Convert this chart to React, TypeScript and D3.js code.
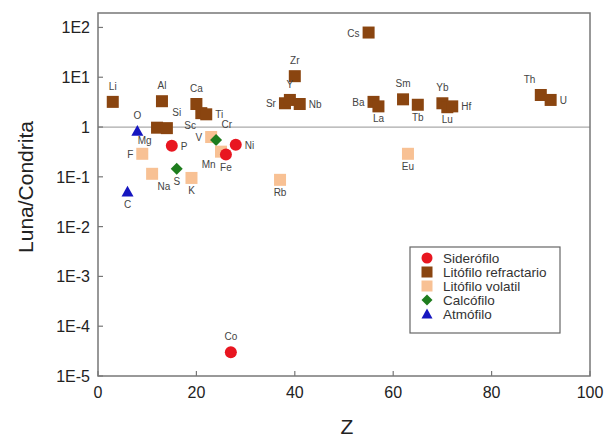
import * as React from "react";
import * as d3 from "d3";

// element symbols, atomic number, Luna/Condrita ratio, geochemical group
const elements = ["Li", "C", "O", "F", "Na", "Mg", "Al", "Si", "P", "S", "K", "Ca", "Sc", "Ti", "V", "Cr", "Mn", "Fe", "Co", "Ni", "Rb", "Sr", "Y", "Zr", "Nb", "Cs", "Ba", "La", "Sm", "Eu", "Tb", "Yb", "Lu", "Hf", "Th", "U"];
const zValues = [3, 6, 8, 9, 11, 12, 13, 14, 15, 16, 19, 20, 21, 22, 23, 24, 25, 26, 27, 28, 37, 38, 39, 40, 41, 55, 56, 57, 62, 63, 65, 70, 71, 72, 90, 92];
const ratios = [3.2, 0.05, 0.83, 0.29, 0.115, 0.97, 3.3, 0.95, 0.42, 0.145, 0.095, 2.9, 1.9, 1.8, 0.63, 0.55, 0.32, 0.28, 3e-5, 0.44, 0.087, 3.0, 3.5, 10.5, 2.9, 79, 3.2, 2.6, 3.6, 0.29, 2.8, 3.0, 2.5, 2.6, 4.4, 3.5];
const groupOf = ["lr", "at", "at", "lv", "lv", "lr", "lr", "lr", "si", "ca", "lv", "lr", "lr", "lr", "lv", "ca", "lv", "si", "si", "si", "lv", "lr", "lr", "lr", "lr", "lr", "lr", "lr", "lr", "lv", "lr", "lr", "lr", "lr", "lr", "lr"];

const groups = ["si", "lr", "lv", "ca", "at"];
const groupNames = ["Siderófilo", "Litófilo refractario", "Litófilo volatil", "Calcófilo", "Atmófilo"];
const groupColors = ["#e81620", "#8a4510", "#f8c194", "#1e7d1e", "#1616c0"];

const xTicks = [0, 20, 40, 60, 80, 100];
const yTicks = [1e-5, 1e-4, 1e-3, 1e-2, 1e-1, 1, 10, 100];

// label placement around the marker
const labelPos: Record<string, string> = {
  Li: "t", C: "b", O: "t", F: "l", Na: "br", Mg: "bl", Al: "t", Si: "tr", P: "r", S: "b", K: "b",
  Ca: "t", Sc: "bl", Ti: "r", V: "l", Cr: "tr", Mn: "bl", Fe: "b", Co: "t", Ni: "r", Rb: "b",
  Sr: "l", Y: "t", Zr: "t", Nb: "r", Cs: "l", Ba: "l", La: "b", Sm: "t", Eu: "b", Tb: "b",
  Yb: "t", Lu: "b", Hf: "r", Th: "tl", U: "r",
};

const W = 606, H = 437;
const left = 98, right = 590, top = 13, bottom = 376;

function Marker({ g, x, y, s }: { g: string; x: number; y: number; s: number }) {
  const color = groupColors[groups.indexOf(g)];
  if (g === "si") return <circle cx={x} cy={y} r={s / 2} fill={color} />;
  if (g === "ca") {
    const r = s / 2;
    return <path d={`M${x},${y - r}L${x + r},${y}L${x},${y + r}L${x - r},${y}Z`} fill={color} />;
  }
  if (g === "at") {
    const r = s / 2;
    return <path d={`M${x},${y - r}L${x + r},${y + r * 0.8}L${x - r},${y + r * 0.8}Z`} fill={color} />;
  }
  return <rect x={x - s / 2} y={y - s / 2} width={s} height={s} fill={color} />;
}

export default function App() {
  const x = d3.scaleLinear().domain([0, 100]).range([left, right]);
  const y = d3.scaleLog().domain([1e-5, Math.pow(10, 2.29)]).range([bottom, top]);
  const fmt = (v: number) => {
    const e = Math.round(Math.log10(v));
    return e === 0 ? "1" : `1E${e}`;
  };

  const points = elements.map((el, i) => ({ el, z: zValues[i], v: ratios[i], g: groupOf[i] }));

  const labelFor = (p: { el: string; z: number; v: number }) => {
    const px = x(p.z), py = y(p.v);
    const pos = labelPos[p.el] || "t";
    let dx = 0, dy = 0, anchor = "middle";
    if (pos.includes("t")) dy = -12;
    if (pos.includes("b")) dy = 16;
    if (pos === "l" || pos === "r") dy = 4;
    if (pos.includes("l")) { dx = -9; anchor = "end"; }
    if (pos.includes("r")) { dx = 9; anchor = "start"; }
    if (pos === "tr" || pos === "tl" || pos === "br" || pos === "bl") dx = dx * 0.6;
    return (
      <text key={"l" + p.el} x={px + dx} y={py + dy} textAnchor={anchor} fontSize={10} fill="#444">
        {p.el}
      </text>
    );
  };

  return (
    <svg width={W} height={H} style={{ position: "absolute", left: 0, top: 0, background: "#fff" }} fontFamily="Arial, 'Liberation Sans', sans-serif">
      <line x1={left} x2={right} y1={y(1)} y2={y(1)} stroke="#aaa" strokeWidth={1.2} />
      <rect x={left} y={top} width={right - left} height={bottom - top} fill="none" stroke="#777" strokeWidth={1.5} />
      {yTicks.map((t) => (
        <g key={"y" + t}>
          <line x1={left} x2={left + 5} y1={y(t)} y2={y(t)} stroke="#777" strokeWidth={1.2} />
          <text x={left - 8} y={y(t) + 6} textAnchor="end" fontSize={16} fill="#222">{fmt(t)}</text>
        </g>
      ))}
      {xTicks.map((t) => (
        <g key={"x" + t}>
          <line x1={x(t)} x2={x(t)} y1={bottom} y2={bottom - 5} stroke="#777" strokeWidth={1.2} />
          <text x={x(t)} y={bottom + 22} textAnchor="middle" fontSize={16} fill="#222">{t}</text>
        </g>
      ))}
      <text transform={`translate(33,187) rotate(-90)`} textAnchor="middle" fontSize={21} fill="#222">Luna/Condrita</text>
      <text x={347} y={434} textAnchor="middle" fontSize={21} fill="#222">Z</text>
      {points.map((p) => (
        <Marker key={p.el} g={p.g} x={x(p.z)} y={y(p.v)} s={12} />
      ))}
      {points.map(labelFor)}
      <rect x={410} y={247} width={150} height={86} fill="#fff" stroke="#666" strokeWidth={1.2} />
      {groups.map((g, i) => (
        <g key={"lg" + g}>
          <Marker g={g} x={427} y={258 + i * 14} s={11} />
          <text x={443} y={263 + i * 14} fontSize={13.5} fill="#333">{groupNames[i]}</text>
        </g>
      ))}
    </svg>
  );
}
